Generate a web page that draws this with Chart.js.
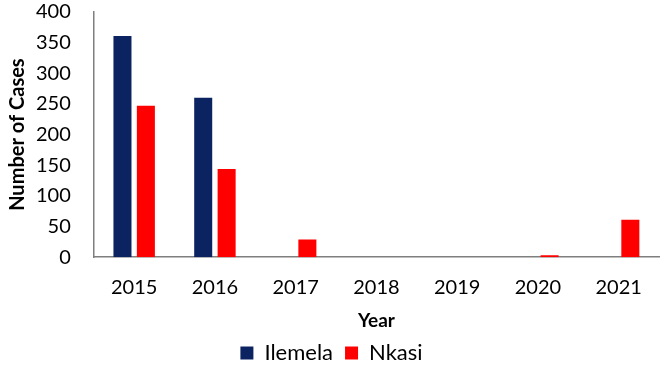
<!DOCTYPE html>
<html>
<head>
<meta charset="utf-8">
<script src="https://cdn.jsdelivr.net/npm/chart.js@4"></script>
<style>
  html, body { margin: 0; padding: 0; background: #fff; }
  #wrap { width: 669px; height: 374px; }
</style>
</head>
<body>
<div id="wrap"><canvas id="cases-chart-id"></canvas></div>
<script>
const YEARS = ['2015', '2016', '2017', '2018', '2019', '2020', '2021']
const ILEMELA = [361, 260, 0, 0, 0, 0, 0]
const NKASI = [247, 144, 29, 0, 0, 3, 61]

const ILEMELA_COLOR = '#0b2361'
const NKASI_COLOR = '#ff0000'
const AXIS_COLOR = '#7f7f7f'
const FONT = 'Lato, "Open Sans", sans-serif'

const data = {
    labels: YEARS,
    datasets: [
        {
            label: 'Ilemela',
            data: ILEMELA,
            backgroundColor: ILEMELA_COLOR,
            categoryPercentage: 0.58,
            barPercentage: 0.77
        }, {
            label: 'Nkasi',
            data: NKASI,
            backgroundColor: NKASI_COLOR,
            categoryPercentage: 0.58,
            barPercentage: 0.77
        }
    ]
}

const config = {
    type: 'bar',
    data: data,
    options: {
        responsive: true,
        maintainAspectRatio: false,
        animation: false,
        layout: { padding: { top: 3, right: 10, bottom: 0, left: 4 } },
        plugins: {
            legend: {
                position: 'bottom',
                labels: {
                    usePointStyle: true,
                    pointStyle: 'rect',
                    boxWidth: 13,
                    boxHeight: 13,
                    padding: 12,
                    color: '#000',
                    font: { family: FONT, size: 22 }
                }
            },
            tooltip: { enabled: false }
        },
        scales: {
            x: {
                grid: { display: false, drawTicks: false },
                border: { color: AXIS_COLOR, width: 1.5 },
                ticks: { color: '#000', padding: 18, maxRotation: 0, font: { family: FONT, size: 20 } },
                title: {
                    display: true,
                    text: 'Year',
                    color: '#000',
                    padding: { top: -8, bottom: -2 },
                    font: { family: FONT, size: 19, weight: 'bold' }
                }
            },
            y: {
                min: 0,
                max: 400,
                grid: { display: false, drawTicks: false },
                border: { color: AXIS_COLOR, width: 1.5 },
                ticks: { stepSize: 50, autoSkip: false, color: '#000', padding: 23, font: { family: FONT, size: 20 } },
                // tick padding also pads the top of the axis, keep only half a label
                afterFit: scale => { scale.paddingTop = 12 },
                title: {
                    display: true,
                    text: 'Number of Cases',
                    color: '#000',
                    padding: { top: 2, bottom: -17 },
                    font: { family: FONT, size: 20, weight: 'bold' }
                }
            }
        }
    }
}

new Chart(document.getElementById('cases-chart-id'), config)
</script>
</body>
</html>
